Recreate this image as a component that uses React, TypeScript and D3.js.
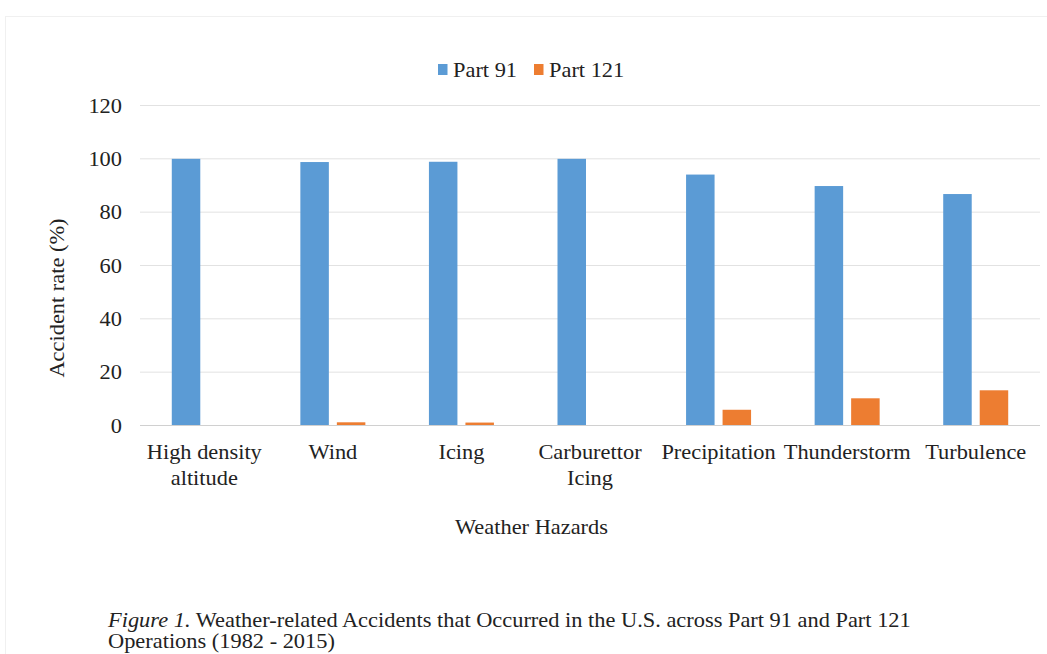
import React from "react";
import * as d3 from "d3";

const categories = [
  ["High density", "altitude"],
  ["Wind"],
  ["Icing"],
  ["Carburettor", "Icing"],
  ["Precipitation"],
  ["Thunderstorm"],
  ["Turbulence"],
];
const seriesNames = ["Part 91", "Part 121"];
const part91 = [100, 98.8, 98.9, 100, 94.1, 89.8, 86.8];
const part121 = [0, 1.2, 1.1, 0, 5.9, 10.2, 13.2];
const yTicks = [0, 20, 40, 60, 80, 100, 120];
const colors = ["#5B9BD5", "#ED7D31"];

const W = 1047;
const H = 654;
const FONT = "'Liberation Serif', 'Times New Roman', serif";
const SX = 1.12;
const FS = 20;

function T({
  x,
  y,
  anchor = "start",
  rotate = 0,
  children,
}: {
  x: number;
  y: number;
  anchor?: string;
  rotate?: number;
  children: React.ReactNode;
}) {
  return (
    <g transform={`translate(${x},${y}) rotate(${rotate}) scale(${SX},1)`}>
      <text x={0} y={0} textAnchor={anchor} fontSize={FS} fill="#222" fontFamily={FONT}>
        {children}
      </text>
    </g>
  );
}

export default function App() {
  const left = 140;
  const right = 1040;
  const top = 105.5;
  const bottom = 425.5;
  const x = d3
    .scaleBand<number>()
    .domain(d3.range(categories.length))
    .range([left, right]);
  const y = d3.scaleLinear().domain([0, 120]).range([bottom, top]);
  const barW = 28.5;
  const gap = 8;
  const series = [part91, part121];

  return (
    <svg
      width={W}
      height={H}
      style={{ position: "absolute", left: 0, top: 0, background: "#fff" }}
      fontFamily={FONT}
    >
      <rect x={5.5} y={16.5} width={W} height={H} fill="none" stroke="#f0f0f0" />
      {yTicks.map((t) => (
        <g key={t}>
          <line
            x1={left}
            x2={right}
            y1={y(t)}
            y2={y(t)}
            stroke={t === 0 ? "#d0d0d0" : "#e2e2e2"}
            strokeWidth={1}
          />
          <T x={122} y={y(t) + 7} anchor="end">
            {t}
          </T>
        </g>
      ))}
      {series.map((vals, si) =>
        vals.map((v, i) => {
          const c = (x(i) as number) + x.bandwidth() / 2;
          const bx = si === 0 ? c - gap / 2 - barW : c + gap / 2;
          if (v <= 0) return null;
          return (
            <rect
              key={`${si}-${i}`}
              x={bx}
              y={y(v)}
              width={barW}
              height={y(0) - y(v)}
              fill={colors[si]}
            />
          );
        })
      )}
      <line x1={left} x2={right} y1={y(0)} y2={y(0)} stroke="#d0d0d0" />
      {categories.map((lines, i) => {
        const c = (x(i) as number) + x.bandwidth() / 2;
        return (
          <g key={i}>
            {lines.map((l, j) => (
              <T key={j} x={c} y={459 + j * 26} anchor="middle">
                {l}
              </T>
            ))}
          </g>
        );
      })}
      <T x={64} y={298} anchor="middle" rotate={-90}>
        Accident rate (%)
      </T>
      <T x={531.5} y={534} anchor="middle">
        Weather Hazards
      </T>
      {seriesNames.map((n, i) => {
        const lx = i === 0 ? 438 : 534;
        return (
          <g key={n}>
            <rect x={lx} y={64} width={9.5} height={11} fill={colors[i]} />
            <T x={lx + 15} y={77}>
              {n}
            </T>
          </g>
        );
      })}
      <T x={108} y={627}>
        <tspan fontStyle="italic">Figure 1.</tspan> Weather-related Accidents that Occurred in
        the U.S. across Part 91 and Part 121
      </T>
      <T x={108} y={648}>
        Operations (1982 - 2015)
      </T>
    </svg>
  );
}
